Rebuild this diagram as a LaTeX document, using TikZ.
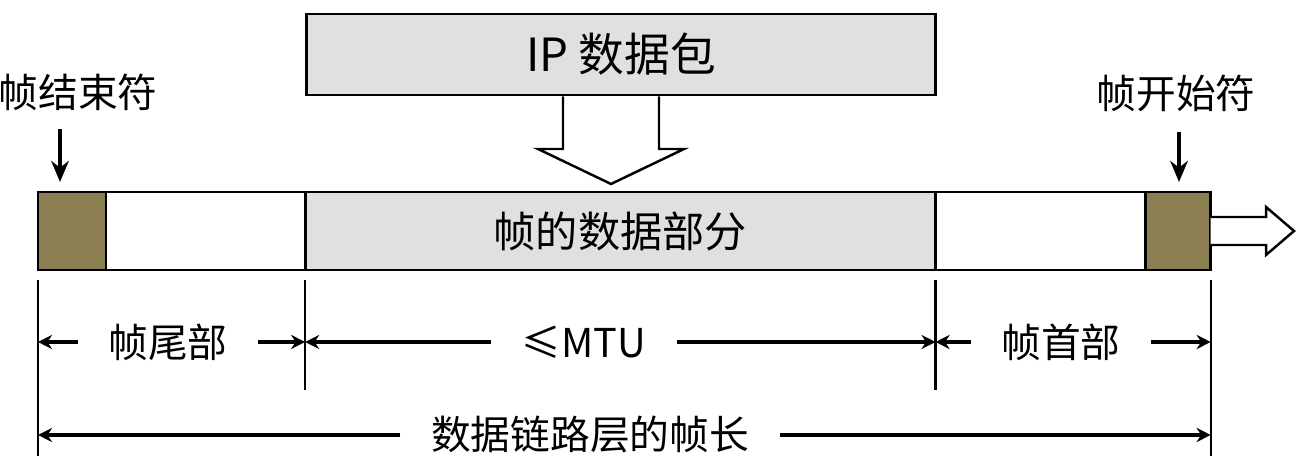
\documentclass[tikz,border=0pt]{standalone}
\usepackage{fontspec}
\setmainfont{Noto Sans CJK SC}
\usetikzlibrary{arrows.meta, calc, positioning}
\usepackage{xcolor}
\definecolor{flagbrown}{RGB}{139,126,82}
\definecolor{boxgray}{RGB}{224,224,224}

\tikzset{
  seg/.style={draw, line width=0.8pt, inner sep=0pt, outer sep=0pt,
    minimum height=0.78cm, font=\fontsize{12}{14}\selectfont},
  pktbox/.style={draw, line width=0.8pt, fill=boxgray, inner sep=0pt,
    minimum width=6.28cm, minimum height=0.81cm, font=\fontsize{13}{15}\selectfont},
  toplbl/.style={inner sep=0pt, font=\fontsize{11.3}{13}\selectfont},
  dimlbl/.style={inner xsep=0.3cm, inner ysep=0pt, font=\fontsize{11.3}{13}\selectfont},
  dimarrow/.style={-{Stealth[length=4pt, width=4pt]}, line width=0.9pt},
  downarrow/.style={-{Stealth[length=6pt, width=5pt]}, line width=1pt},
  hollow/.style={draw, line width=0.7pt, fill=white, line join=miter},
  extline/.style={line width=0.6pt}
}

\begin{document}
\begin{tikzpicture}[x=0.01cm, y=-0.01cm]
  \useasboundingbox (0,0) rectangle (1298,456);

  % IP packet
  \node[pktbox] (ip) at (621,54.5) {IP 数据包};

  % hollow arrow from packet down into frame
  \draw[hollow] (ip.south -| 563,0) -- (563,149) -- (538,149) -- (611,184)
    -- (684,149) -- (659,149) -- (ip.south -| 659,0);

  % the frame
  \node[seg, fill=flagbrown, minimum width=0.68cm, anchor=north west] (eof) at (38,192) {};
  \node[seg, minimum width=1.99cm, right=0pt of eof] (tail) {};
  \node[seg, fill=boxgray, minimum width=6.30cm, right=0pt of tail] (data) {帧的数据部分};
  \node[seg, minimum width=2.10cm, right=0pt of data] (head) {};
  \node[seg, fill=flagbrown, minimum width=0.65cm, right=0pt of head] (sof) {};

  % sending direction
  \draw[hollow] (sof.east |- 0,217) -- (1266,217) -- (1266,207) -- (1294,231)
    -- (1266,255) -- (1266,245) -- (sof.east |- 0,245);

  % flags
  \node[toplbl] (eoflbl) at (78,92) {帧结束符};
  \node[toplbl] (soflbl) at (1176,93) {帧开始符};
  \coordinate (eoftop) at (60,129);
  \coordinate (softop) at (1179,132);
  \draw[downarrow] (eoftop) -- ($(eoftop |- eof.north)+(0,-10)$);
  \draw[downarrow] (softop) -- ($(softop |- sof.north)+(0,-10)$);

  % extension lines
  \coordinate (x0) at (eof.south west);
  \coordinate (x1) at (data.south west);
  \coordinate (x2) at (data.south east);
  \coordinate (x3) at (sof.south east);
  \draw[extline] ($(x0)+(0,10)$) -- (x0 |- 0,456);
  \draw[extline] ($(x1)+(0,10)$) -- (x1 |- 0,390);
  \draw[extline] ($(x2)+(0,10)$) -- (x2 |- 0,390);
  \draw[extline] ($(x3)+(0,10)$) -- (x3 |- 0,456);

  % dimensions, first row
  \node[dimlbl] (taillbl) at (168,342) {帧尾部};
  \node[dimlbl] (mtulbl) at (584,342) {≤MTU};
  \node[dimlbl] (headlbl) at (1061,342) {帧首部};
  \draw[dimarrow] (taillbl.west) -- (x0 |- taillbl);
  \draw[dimarrow] (taillbl.east) -- (x1 |- taillbl);
  \draw[dimarrow] (mtulbl.west) -- (x1 |- mtulbl);
  \draw[dimarrow] (mtulbl.east) -- (x2 |- mtulbl);
  \draw[dimarrow] (headlbl.west) -- (x2 |- headlbl);
  \draw[dimarrow] (headlbl.east) -- (x3 |- headlbl);

  % dimensions, second row
  \node[dimlbl] (framelbl) at (590,435) {数据链路层的帧长};
  \draw[dimarrow] (framelbl.west) -- (x0 |- framelbl);
  \draw[dimarrow] (framelbl.east) -- (x3 |- framelbl);
\end{tikzpicture}
\end{document}
